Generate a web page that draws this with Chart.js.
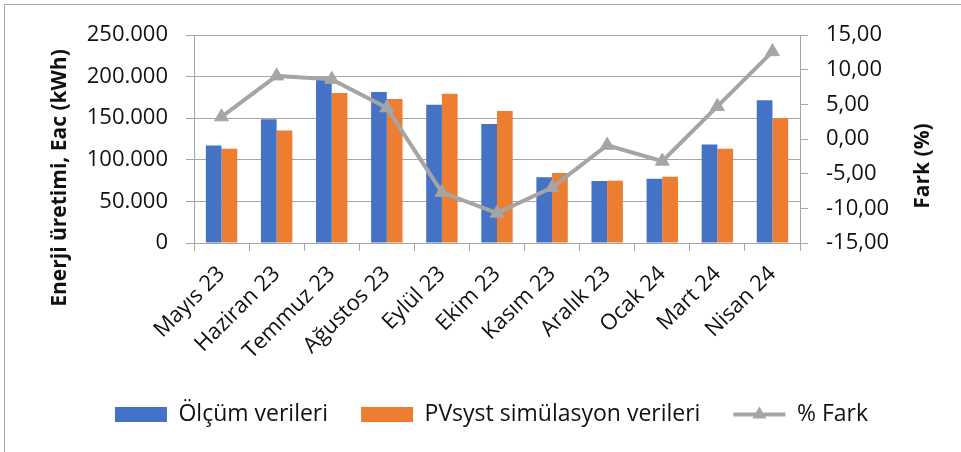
<!DOCTYPE html>
<html>
<head>
<meta charset="utf-8">
<script src="https://cdn.jsdelivr.net/npm/chart.js@4/dist/chart.umd.min.js"></script>
<style>
  html, body { margin: 0; padding: 0; background: #fff; }
  #wrap { width: 961px; height: 452px; position: relative; }
</style>
</head>
<body>
<div id="wrap"><canvas id="chart" width="961" height="452"></canvas></div>
<script>
// veriler
const months = ['Mayıs 23', 'Haziran 23', 'Temmuz 23', 'Ağustos 23', 'Eylül 23', 'Ekim 23',
                'Kasım 23', 'Aralık 23', 'Ocak 24', 'Mart 24', 'Nisan 24'];
const olcum = [117200, 148600, 196500, 181500, 166300, 142900, 78900, 74500, 77300, 118400, 171500];
const pvsyst = [113200, 135300, 180300, 173100, 179500, 158600, 84200, 74900, 79700, 113200, 149800];
const fark = [3.2, 9.1, 8.6, 4.5, -7.7, -10.7, -7.0, -0.9, -3.2, 4.7, 12.6];

const leftTicks = [0, 50000, 100000, 150000, 200000, 250000];
const rightTicks = [-15, -10, -5, 0, 5, 10, 15];

const FONT = "'Open Sans', 'Noto Sans', sans-serif";
const GRID = '#a6a6a6';
const TXT = '#111';

function binlik(v) {
    return String(v).replace(/\B(?=(\d{3})+(?!\d))/g, '.');
}

// eksen başlıkları + dış çerçeve + lejanttaki çizgi simgesi
const extras = {
    id: 'extras',
    afterDraw(chart) {
        const ctx = chart.ctx;
        ctx.save();
        ctx.strokeStyle = '#a6a6a6';
        ctx.lineWidth = 1;
        ctx.beginPath();
        ctx.moveTo(4.5, 452);
        ctx.lineTo(4.5, 4.5);
        ctx.lineTo(961, 4.5);
        ctx.stroke();

        ctx.fillStyle = TXT;
        ctx.font = 'bold 21px ' + FONT;
        ctx.textAlign = 'center';
        ctx.textBaseline = 'middle';
        ctx.translate(60, 178);
        ctx.rotate(-Math.PI / 2);
        ctx.fillText('Enerji üretimi, Eac (kWh)', 0, 0);
        ctx.restore();

        ctx.save();
        ctx.fillStyle = TXT;
        ctx.font = 'bold 21px ' + FONT;
        ctx.textAlign = 'center';
        ctx.textBaseline = 'middle';
        ctx.translate(923, 166);
        ctx.rotate(-Math.PI / 2);
        ctx.fillText('Fark (%)', 0, 0);
        ctx.restore();

        const lg = chart.legend;
        if (lg && lg.legendHitBoxes && lg.legendHitBoxes[2]) {
            const hb = lg.legendHitBoxes[2];
            const bw = lg.options.labels.boxWidth;
            const cy = hb.top + hb.height / 2;
            ctx.save();
            ctx.strokeStyle = '#a5a5a5';
            ctx.lineWidth = 4;
            ctx.beginPath();
            ctx.moveTo(hb.left, cy);
            ctx.lineTo(hb.left + bw, cy);
            ctx.stroke();
            ctx.fillStyle = '#a5a5a5';
            const cx = hb.left + bw / 2, r = 8;
            ctx.beginPath();
            ctx.moveTo(cx, cy - r);
            ctx.lineTo(cx + r * 0.87, cy + r * 0.5);
            ctx.lineTo(cx - r * 0.87, cy + r * 0.5);
            ctx.closePath();
            ctx.fill();
            ctx.restore();
        }
    }
};

new Chart(document.getElementById('chart'), {
    type: 'bar',
    data: {
        labels: months,
        datasets: [
            {
                label: 'Ölçüm verileri',
                data: olcum,
                backgroundColor: '#4472C4',
                yAxisID: 'y',
                categoryPercentage: 0.57,
                barPercentage: 1.0,
                order: 1
            },
            {
                label: 'PVsyst simülasyon verileri',
                data: pvsyst,
                backgroundColor: '#ED7D31',
                yAxisID: 'y',
                categoryPercentage: 0.57,
                barPercentage: 1.0,
                order: 1
            },
            {
                type: 'line',
                label: '% Fark',
                data: fark,
                borderColor: '#a5a5a5',
                backgroundColor: '#a5a5a5',
                borderWidth: 4,
                pointStyle: 'triangle',
                pointRadius: 8,
                pointBackgroundColor: '#a5a5a5',
                pointBorderColor: '#a5a5a5',
                pointBorderWidth: 1,
                tension: 0,
                yAxisID: 'y1',
                order: 0
            }
        ]
    },
    options: {
        responsive: false,
        animation: false,
        devicePixelRatio: 1,
        layout: { padding: { top: 35, left: 22, right: 0, bottom: 16 } },
        scales: {
            x: {
                afterFit: function (s) { s.height = 127; },
                grid: {
                    display: true,
                    drawOnChartArea: false,
                    tickLength: 8,
                    color: GRID,
                    offset: true
                },
                border: { display: true, color: GRID },
                ticks: {
                    color: TXT,
                    font: { family: FONT, size: 22 },
                    maxRotation: 45,
                    minRotation: 45,
                    autoSkip: false,
                    padding: 10
                }
            },
            y: {
                position: 'left',
                min: 0,
                max: 250000,
                afterFit: function (s) { s.width = 172; },
                afterBuildTicks: function (s) { s.ticks = leftTicks.map(v => ({ value: v })); },
                grid: { color: GRID, tickLength: 8, lineWidth: 1 },
                border: { display: true, color: GRID },
                ticks: {
                    color: TXT,
                    font: { family: FONT, size: 22 },
                    padding: 18,
                    callback: v => binlik(v)
                }
            },
            y1: {
                position: 'right',
                min: -15,
                max: 15,
                afterFit: function (s) { s.width = 161; },
                afterBuildTicks: function (s) { s.ticks = rightTicks.map(v => ({ value: v })); },
                grid: { drawOnChartArea: false, color: GRID, tickLength: 8 },
                border: { display: true, color: GRID },
                ticks: {
                    color: TXT,
                    font: { family: FONT, size: 22 },
                    padding: 18,
                    callback: v => v.toFixed(2).replace('.', ',')
                }
            }
        },
        plugins: {
            tooltip: { enabled: false },
            legend: {
                display: true,
                position: 'bottom',
                align: 'center',
                labels: {
                    color: TXT,
                    font: { family: FONT, size: 23 },
                    boxWidth: 52,
                    boxHeight: 15,
                    padding: 33,
                    sort: (a, b) => a.datasetIndex - b.datasetIndex,
                    generateLabels: function (chart) {
                        const items = Chart.defaults.plugins.legend.labels.generateLabels(chart);
                        items.forEach(it => {
                            if (it.datasetIndex === 2) {
                                it.fillStyle = 'rgba(0,0,0,0)';
                                it.strokeStyle = 'rgba(0,0,0,0)';
                                it.lineWidth = 0;
                            } else {
                                it.lineWidth = 0;
                            }
                        });
                        return items;
                    }
                }
            }
        }
    },
    plugins: [extras]
});
</script>
</body>
</html>
